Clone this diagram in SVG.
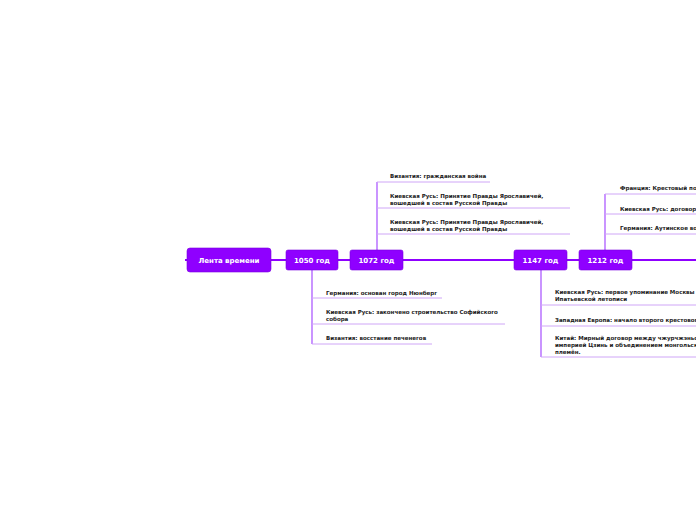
<svg xmlns="http://www.w3.org/2000/svg" width="696" height="520" viewBox="0 0 696 520">
<style>
.node{fill:#8f00ff;stroke:#7a00e0;stroke-width:0.6}
.nt{font-family:"DejaVu Sans",Verdana,sans-serif;font-weight:bold;font-size:7px;fill:#ffffff;text-anchor:middle}
.tt{font-family:"DejaVu Sans",Verdana,sans-serif;font-weight:bold;font-size:5.5px;fill:#1a1a1a}
.main{stroke:#8f00ff;stroke-width:2;fill:none}
.vert{stroke:#a64dff;stroke-width:1.2;fill:none}
.ul{stroke:#cfa6f7;stroke-width:1;fill:none}
</style>
<rect width="696" height="520" fill="#ffffff"/>
<g id="connectors">
<path class="main" d="M185 260 L187 260 M271 260 L286 260 M338 260 L350 260 M403 260 L514 260 M567 260 L579 260 M632 260 L696 260"/>
<path class="vert" d="M377 250 L377 182"/>
<path class="vert" d="M312 270 L312 344"/>
<path class="vert" d="M541 270 L541 357"/>
<path class="vert" d="M605 250 L605 194"/>
<path class="ul" d="M377 182 L490 182 M377 208 L570 208 M377 234 L570 234"/>
<path class="ul" d="M312 298 L442 298 M312 324 L505 324 M312 344 L432 344"/>
<path class="ul" d="M541 305 L696 305 M541 326 L696 326 M541 357 L696 357"/>
<path class="ul" d="M605 194 L696 194 M605 214 L696 214 M605 234 L696 234"/>
</g>
<g id="root"><rect class="node" x="187" y="248" width="84" height="24" rx="3"/><text class="nt" x="229" y="262.5">Лента времени</text></g>
<g id="n1050"><rect class="node" x="286" y="250" width="52" height="20" rx="2"/><text class="nt" x="312" y="262.5">1050 год</text></g>
<g id="n1072"><rect class="node" x="350" y="250" width="53" height="20" rx="2"/><text class="nt" x="376.5" y="262.5">1072 год</text></g>
<g id="n1147"><rect class="node" x="514" y="250" width="53" height="20" rx="2"/><text class="nt" x="540.5" y="262.5">1147 год</text></g>
<g id="n1212"><rect class="node" x="579" y="250" width="53" height="20" rx="2"/><text class="nt" x="605.5" y="262.5">1212 год</text></g>
<g id="t1072a"><text class="tt" x="390" y="178">Византия: гражданская война</text></g>
<g id="t1072b"><text class="tt" x="390" y="198">Киевская Русь: Принятие Правды Ярославичей,</text><text class="tt" x="390" y="205">вошедшей в состав Русской Правды</text></g>
<g id="t1072c"><text class="tt" x="390" y="224">Киевская Русь: Принятие Правды Ярославичей,</text><text class="tt" x="390" y="231">вошедшей в состав Русской Правды</text></g>
<g id="t1050a"><text class="tt" x="326" y="295">Германия: основан город Нюнберг</text></g>
<g id="t1050b"><text class="tt" x="326" y="314">Киевская Русь: закончено строительство Софийского</text><text class="tt" x="326" y="321">собора</text></g>
<g id="t1050c"><text class="tt" x="326" y="340">Византия: восстание печенегов</text></g>
<g id="t1147a"><text class="tt" x="555" y="294">Киевская Русь: первое упоминание Москвы в</text><text class="tt" x="555" y="301">Ипатьевской летописи</text></g>
<g id="t1147b"><text class="tt" x="555" y="322">Западная Европа: начало второго крестового</text></g>
<g id="t1147c"><text class="tt" x="555" y="340">Китай: Мирный договор между чжурчжэньской</text><text class="tt" x="555" y="347">империей Цзинь и объединением монгольских</text><text class="tt" x="555" y="354">племён.</text></g>
<g id="t1212a"><text class="tt" x="620" y="190">Франция: Крестовый поход</text></g>
<g id="t1212b"><text class="tt" x="620" y="211">Киевская Русь: договор</text></g>
<g id="t1212c"><text class="tt" x="620" y="230">Германия: Аутинское восстание</text></g>
</svg>
